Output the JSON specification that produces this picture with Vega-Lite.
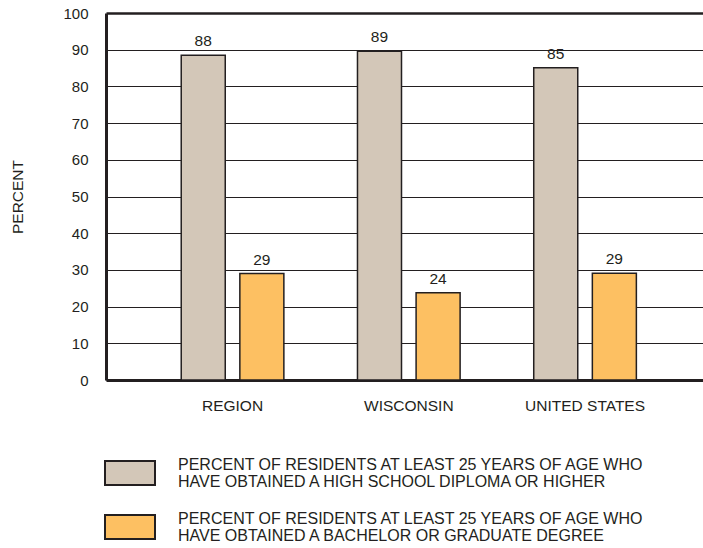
{
  "$schema": "https://vega.github.io/schema/vega-lite/v6.json",
  "width": 597,
  "height": 367,
  "autosize": {"type": "none"},
  "padding": {"left": 106, "top": 13, "right": 0, "bottom": 168},
  "background": "white",
  "config": {
    "view": {"stroke": null},
    "font": "Liberation Sans",
    "text": {"font": "Liberation Sans"}
  },
  "data": {
    "values": [
      {"area": "REGION", "series": "PERCENT OF RESIDENTS AT LEAST 25 YEARS OF AGE WHO HAVE OBTAINED A HIGH SCHOOL DIPLOMA OR HIGHER", "percent": 88.5, "label": "88"},
      {"area": "REGION", "series": "PERCENT OF RESIDENTS AT LEAST 25 YEARS OF AGE WHO HAVE OBTAINED A BACHELOR OR GRADUATE DEGREE", "percent": 29.0, "label": "29"},
      {"area": "WISCONSIN", "series": "PERCENT OF RESIDENTS AT LEAST 25 YEARS OF AGE WHO HAVE OBTAINED A HIGH SCHOOL DIPLOMA OR HIGHER", "percent": 89.6, "label": "89"},
      {"area": "WISCONSIN", "series": "PERCENT OF RESIDENTS AT LEAST 25 YEARS OF AGE WHO HAVE OBTAINED A BACHELOR OR GRADUATE DEGREE", "percent": 23.8, "label": "24"},
      {"area": "UNITED STATES", "series": "PERCENT OF RESIDENTS AT LEAST 25 YEARS OF AGE WHO HAVE OBTAINED A HIGH SCHOOL DIPLOMA OR HIGHER", "percent": 85.1, "label": "85"},
      {"area": "UNITED STATES", "series": "PERCENT OF RESIDENTS AT LEAST 25 YEARS OF AGE WHO HAVE OBTAINED A BACHELOR OR GRADUATE DEGREE", "percent": 29.1, "label": "29"}
    ]
  },
  "encoding": {
    "x": {
      "field": "area",
      "type": "nominal",
      "sort": ["REGION", "WISCONSIN", "UNITED STATES"],
      "scale": {"paddingInner": 0, "paddingOuter": 0.1936, "align": 0.563},
      "axis": {
        "title": null,
        "labelAngle": 0,
        "labelFontSize": 15.5,
        "labelColor": "#231f20",
        "labelPadding": 18,
        "ticks": false,
        "tickSize": 0,
        "domain": true,
        "domainColor": "#231f20",
        "domainWidth": 3
      }
    },
    "xOffset": {
      "field": "series",
      "type": "nominal",
      "sort": [
        "PERCENT OF RESIDENTS AT LEAST 25 YEARS OF AGE WHO HAVE OBTAINED A HIGH SCHOOL DIPLOMA OR HIGHER",
        "PERCENT OF RESIDENTS AT LEAST 25 YEARS OF AGE WHO HAVE OBTAINED A BACHELOR OR GRADUATE DEGREE"
      ],
      "scale": {"paddingInner": 0.249, "paddingOuter": 0.628}
    },
    "y": {
      "field": "percent",
      "type": "quantitative",
      "scale": {"domain": [0, 100], "nice": false},
      "axis": {
        "title": "PERCENT",
        "titleFontSize": 15.5,
        "titleFontWeight": "normal",
        "titleColor": "#231f20",
        "titlePadding": 37,
        "values": [0, 10, 20, 30, 40, 50, 60, 70, 80, 90, 100],
        "labelFontSize": 15,
        "labelColor": "#231f20",
        "labelPadding": 18,
        "ticks": false,
        "tickSize": 0,
        "domain": true,
        "domainColor": "#231f20",
        "domainWidth": 3,
        "grid": true,
        "gridColor": "#231f20",
        "gridOpacity": 1,
        "gridWidth": {"condition": {"test": "datum.value == 100", "value": 2.5}, "value": 1}
      }
    }
  },
  "layer": [
    {
      "mark": {"type": "bar", "stroke": "#231f20", "strokeWidth": 1.5},
      "encoding": {
        "fill": {
          "field": "series",
          "type": "nominal",
          "scale": {
            "domain": [
              "PERCENT OF RESIDENTS AT LEAST 25 YEARS OF AGE WHO HAVE OBTAINED A HIGH SCHOOL DIPLOMA OR HIGHER",
              "PERCENT OF RESIDENTS AT LEAST 25 YEARS OF AGE WHO HAVE OBTAINED A BACHELOR OR GRADUATE DEGREE"
            ],
            "range": ["#d3c7b8", "#fdc062"]
          },
          "legend": {
            "title": null,
            "orient": "none",
            "legendX": -2,
            "legendY": 434,
            "direction": "vertical",
            "symbolType": "M-1,-0.48H1V0.48H-1Z",
            "symbolSize": 2500,
            "symbolStrokeColor": "#231f20",
            "symbolStrokeWidth": 2,
            "symbolOpacity": 1,
            "labelFontSize": 16,
            "labelColor": "#231f20",
            "labelLimit": 700,
            "labelOffset": 22,
            "rowPadding": 11,
            "labelExpr": "[substring(datum.label, 0, indexof(datum.label, ' WHO ') + 4), substring(datum.label, indexof(datum.label, ' WHO ') + 5)]",
            "encode": {"labels": {"update": {"lineHeight": {"value": 17}, "dy": {"value": -8}}}}
          }
        }
      }
    },
    {
      "mark": {"type": "text", "baseline": "alphabetic", "dy": -9, "fontSize": 15.5, "color": "#231f20"},
      "encoding": {
        "text": {"field": "label", "type": "nominal"}
      }
    }
  ]
}
